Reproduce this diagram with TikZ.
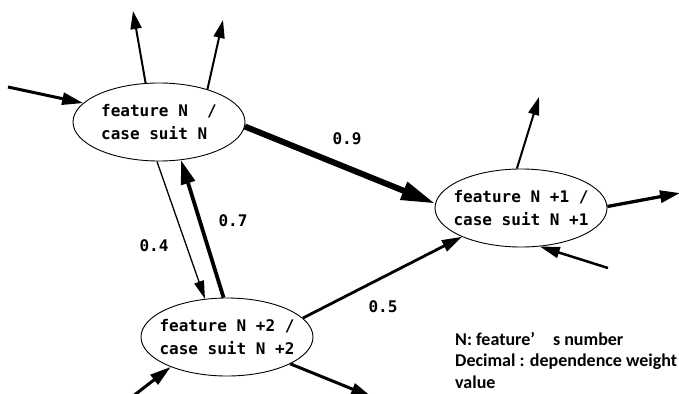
\documentclass[tikz,border=0pt]{standalone}
\usepackage{fontspec}
\newfontfamily\codefont{DejaVu Sans Mono}
\newfontfamily\notefont{Carlito}
\usetikzlibrary{shapes.geometric,arrows.meta}

\begin{document}
\begin{tikzpicture}[x=1pt,y=-1pt,
			featnode/.style={ellipse, draw, line width=0.9pt, inner xsep=-7pt, inner ysep=0pt, minimum width=172pt, minimum height=78pt, align=left, font=\codefont\bfseries\fontsize{16}{23}\selectfont},
			weightlabel/.style={inner sep=0pt, font=\codefont\bfseries\fontsize{16}{19}\selectfont},
			thinarrow/.style={line width=1.3pt, -{Triangle[length=18pt,width=10pt]}},
			midarrow/.style={line width=2pt, -{Triangle[length=18pt,width=11pt]}},
			thickarrow/.style={line width=3pt, -{Triangle[length=21pt,width=12pt]}},
			heavyarrow/.style={line width=6pt, -{Triangle[length=34pt,width=18pt]}},
			]
			\useasboundingbox (0,0) rectangle (679,393);
			\clip (0,0) rectangle (679,393);

			%Nodes
			\node[featnode]      (f0)       at (159,122) {feature N\ \ /\\case suit N};
			\node[featnode]      (f1)       at (521,208) {feature N +1 /\\case suit N +1};
			\node[featnode]      (f2)       at (227,337) {feature N +2 /\\case suit N +2};

			\node[weightlabel]   (w09)      at (347,139) {0.9};
			\node[weightlabel]   (w04)      at (154,246) {0.4};
			\node[weightlabel]   (w07)      at (233,221) {0.7};
			\node[weightlabel]   (w05)      at (383,307) {0.5};

			\node[anchor=north west, inner sep=0pt, align=left, font=\notefont\bfseries\fontsize{18}{21.5}\selectfont] (legend) at (455,332)
				{N: feature’\hspace{1em}s number\\Decimal : dependence weight\\value};

			%Free ends
			\coordinate (f0in)   at (8,87);
			\coordinate (f0outa) at (133,11);
			\coordinate (f0outb) at (223,20);
			\coordinate (f1out)  at (539,97);
			\coordinate (f1outr) at (680,193);
			\coordinate (f1in)   at (608,268);
			\coordinate (f2in)   at (128,400);
			\coordinate (f2out)  at (372,397);

			%Lines
			\draw[thickarrow] (f0in) -- (f0.166);
			\draw[midarrow] (f0.109) -- (f0outa);
			\draw[midarrow] (f0.34) -- (f0outb);
			\draw[heavyarrow] (f0.-3) -- (f1.177);
			\draw[thinarrow] (f0.-93) -- (f2.120);
			\draw[line width=3.8pt, -{Triangle[length=24pt,width=14pt]}] (f2.95) -- (f0.-60);
			\draw[line width=2.8pt, -{Triangle[length=20pt,width=12pt]}] (f2.14) -- (f1.206);
			\draw[midarrow] (f1.96) -- (f1out);
			\draw[line width=3.3pt, -{Triangle[length=20pt,width=12pt]}] (f1.1) -- (f1outr);
			\draw[line width=2.5pt, -{Triangle[length=20pt,width=11pt]}] (f1in) -- (f1.-64);
			\draw[thickarrow] (f2in) -- (f2.208);
			\draw[thickarrow] (f2.-23) -- (f2out);
		\end{tikzpicture}
\end{document}
